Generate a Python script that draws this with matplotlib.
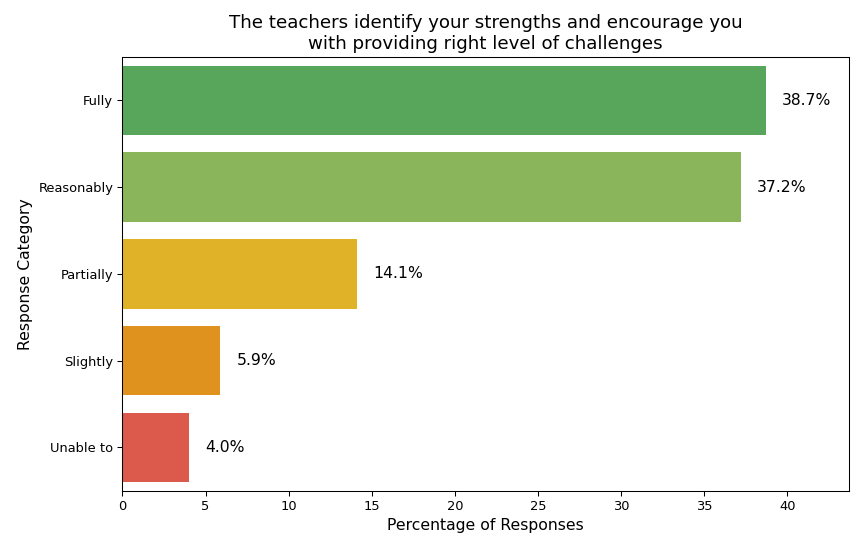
import matplotlib
matplotlib.use("Agg")
import matplotlib.pyplot as plt

# data
categories = ['Fully', 'Reasonably', 'Partially', 'Slightly', 'Unable to']
percentages = [38.7, 37.2, 14.1, 5.9, 4.0]
bar_colors = ['#58a55c', '#8bb55a', '#e0b228', '#e0921f', '#dc5a4c']

# the reference looks a bit shrunk, so draw at a lower dpi
dpi = 94
fig, ax = plt.subplots(figsize=(856 / dpi, 537 / dpi), dpi=dpi)

y = list(range(len(categories)))
ax.barh(y, percentages, height=0.8, color=bar_colors)
ax.set_yticks(y)
ax.set_yticklabels(categories)
ax.set_ylim(len(categories) - 0.5, -0.5)
ax.set_xlim(0, max(percentages) * 1.13)

# value labels
for yi, v in zip(y, percentages):
    ax.text(v + 1, yi, f'{v:.1f}%', va='center', ha='left', fontsize=12)

ax.set_title('The teachers identify your strengths and encourage you\nwith providing right level of challenges', fontsize=14)
ax.set_xlabel('Percentage of Responses', fontsize=12)
ax.set_ylabel('Response Category', fontsize=12)

plt.subplots_adjust(left=0.143, right=0.992, top=0.894, bottom=0.086)
plt.savefig('out.png', dpi=dpi)
